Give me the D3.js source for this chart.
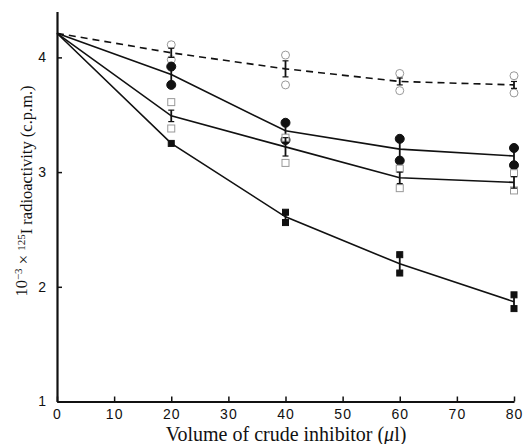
<!DOCTYPE html>
<html>
<head>
<meta charset="utf-8">
<script src="https://cdn.jsdelivr.net/npm/d3@7"></script>
<style>
  body { margin: 0; background: #fff; }
  svg { display: block; }
</style>
</head>
<body>
<div id="chart-area"></div>
<script>
// Inhibition curves, 4 treatments, duplicates + mean with error bar
var volumes = [0, 20, 40, 60, 80];
var xTicks = [0, 10, 20, 30, 40, 50, 60, 70, 80];
var yTicks = [1, 2, 3, 4];

// open circles (dashed line)
var openCircleMean = [4.21, 4.04, 3.90, 3.79, 3.76];
var openCircleErr  = [0, 0.04, 0.07, 0.03, 0.03];
var openCircleReps = [[4.21], [4.11, 3.98], [4.02, 3.76], [3.86, 3.71], [3.84, 3.69]];

// filled circles
var fillCircleMean = [4.21, 3.85, 3.36, 3.20, 3.14];
var fillCircleErr  = [0, 0.06, 0.06, 0.08, 0.06];
var fillCircleReps = [[4.21], [3.92, 3.76], [3.43, 3.28], [3.29, 3.10], [3.21, 3.06]];

// open squares
var openSquareMean = [4.21, 3.49, 3.22, 2.95, 2.91];
var openSquareErr  = [0, 0.05, 0.08, 0.05, 0.05];
var openSquareReps = [[4.21], [3.61, 3.38], [3.30, 3.08], [3.03, 2.86], [2.99, 2.84]];

// filled squares
var fillSquareMean = [4.21, 3.25, 2.61, 2.20, 1.87];
var fillSquareErr  = [0, 0, 0.03, 0.07, 0.05];
var fillSquareReps = [[4.21], [3.25], [2.65, 2.56], [2.28, 2.12], [1.93, 1.81]];

var svg = d3.select("#chart-area").append("svg")
    .attr("width", 525)
    .attr("height", 444);

var x = d3.scaleLinear().domain([0, 80]).range([57, 514]);
var y = d3.scaleLinear().domain([1, 4.4]).range([401.5, 11.5]);

var series = [
    {mean: openCircleMean, err: openCircleErr, reps: openCircleReps, shape: "circle", filled: false, dash: "7,5"},
    {mean: fillCircleMean, err: fillCircleErr, reps: fillCircleReps, shape: "circle", filled: true, dash: null},
    {mean: openSquareMean, err: openSquareErr, reps: openSquareReps, shape: "square", filled: false, dash: null},
    {mean: fillSquareMean, err: fillSquareErr, reps: fillSquareReps, shape: "square", filled: true, dash: null}
];

var line = d3.line()
    .x(function(d, i) { return x(volumes[i]); })
    .y(function(d) { return y(d); });

series.forEach(function(s) {
    var g = svg.append("g");

    // replicate markers (skip the shared starting point)
    s.reps.forEach(function(vals, i) {
        if (i === 0) return;
        vals.forEach(function(v) {
            if (s.shape === "circle") {
                g.append("circle")
                    .attr("cx", x(volumes[i]))
                    .attr("cy", y(v))
                    .attr("r", s.filled ? 4.5 : 4)
                    .attr("fill", s.filled ? "#111" : "#fff")
                    .attr("stroke", s.filled ? "#111" : "#999")
                    .attr("stroke-width", 1);
            } else {
                var sz = s.filled ? 6 : 7;
                g.append("rect")
                    .attr("x", x(volumes[i]) - sz / 2)
                    .attr("y", y(v) - sz / 2)
                    .attr("width", sz)
                    .attr("height", sz)
                    .attr("fill", s.filled ? "#111" : "#fff")
                    .attr("stroke", s.filled ? "#111" : "#999")
                    .attr("stroke-width", 1);
            }
        });
    });

    // error bars
    s.mean.forEach(function(m, i) {
        var e = s.err[i];
        if (!e) return;
        var cx = x(volumes[i]);
        g.append("line")
            .attr("x1", cx).attr("x2", cx)
            .attr("y1", y(m + e)).attr("y2", y(m - e))
            .attr("stroke", "#111").attr("stroke-width", 1.8);
        [m + e, m - e].forEach(function(v) {
            g.append("line")
                .attr("x1", cx - 3).attr("x2", cx + 3)
                .attr("y1", y(v)).attr("y2", y(v))
                .attr("stroke", "#111").attr("stroke-width", 1.2);
        });
    });

    // mean line
    g.append("path")
        .datum(s.mean)
        .attr("d", line)
        .attr("fill", "none")
        .attr("stroke", "#111")
        .attr("stroke-width", 1.6)
        .attr("stroke-dasharray", s.dash);
});

// axes
var xAxis = d3.axisBottom(x).tickValues(xTicks).tickFormat(d3.format("d"))
    .tickSizeInner(-5).tickSizeOuter(0).tickPadding(8);
var yAxis = d3.axisLeft(y).tickValues(yTicks).tickFormat(d3.format("d"))
    .tickSizeInner(-5).tickSizeOuter(0).tickPadding(10);

var xAxisGroup = svg.append("g")
    .attr("transform", "translate(0," + y(1) + ")")
    .call(xAxis);
var yAxisGroup = svg.append("g")
    .attr("transform", "translate(" + x(0) + ",0)")
    .call(yAxis);

[xAxisGroup, yAxisGroup].forEach(function(ax) {
    ax.select(".domain").attr("stroke", "#111").attr("stroke-width", 2.2);
    ax.selectAll(".tick line").attr("stroke", "#111").attr("stroke-width", 1.5);
    ax.selectAll(".tick text")
        .attr("fill", "#111")
        .style("font-family", "'Liberation Sans', Arial, sans-serif")
        .style("font-size", "14px")
        .style("letter-spacing", "1px");
});

// X label
var xLabel = svg.append("text")
    .attr("x", 286)
    .attr("y", 441)
    .attr("text-anchor", "middle")
    .style("font-family", "'Liberation Serif', 'Times New Roman', serif")
    .style("font-size", "20px")
    .style("fill", "#111");
xLabel.append("tspan").text("Volume of crude inhibitor (");
xLabel.append("tspan").style("font-style", "italic").text("\u03bc");
xLabel.append("tspan").text("l)");

// Y label
var yLabel = svg.append("text")
    .attr("transform", "translate(27,191) rotate(-90)")
    .attr("text-anchor", "middle")
    .style("font-family", "'Liberation Serif', 'Times New Roman', serif")
    .style("font-size", "16.5px")
    .style("fill", "#111");
yLabel.append("tspan").text("10");
yLabel.append("tspan").attr("dy", "-0.45em").style("font-size", "11px").text("\u22123");
yLabel.append("tspan").attr("dy", "0.45em").text(" \u00d7 ");
yLabel.append("tspan").attr("dy", "-0.45em").style("font-size", "11px").text("125");
yLabel.append("tspan").attr("dy", "0.45em").text("I radioactivity (c.p.m.)");
</script>
</body>
</html>
